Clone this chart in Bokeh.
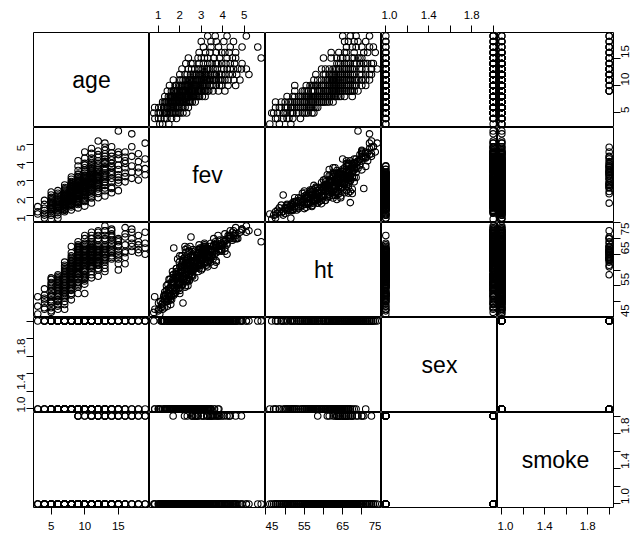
import math
from bokeh.plotting import figure
from bokeh.layouts import gridplot
from bokeh.models import LinearAxis, FixedTicker, Range1d, PrintfTickFormatter
from bokeh.core.properties import value
from bokeh.embed import file_html
from bokeh.resources import INLINE

names = ["age", "fev", "ht", "sex", "smoke"]

age = [
    3, 3, 3,
    4, 4, 4, 4, 4, 4, 4,
    5, 5, 5, 5, 5, 5, 5, 5, 5, 5, 5, 5, 5, 5, 5, 5, 5, 5,
    6, 6, 6, 6, 6, 6, 6, 6, 6, 6, 6, 6, 6, 6, 6, 6, 6, 6, 6, 6, 6, 6,
    7, 7, 7, 7, 7, 7, 7, 7, 7, 7, 7, 7, 7, 7, 7, 7, 7, 7, 7, 7, 7, 7, 7, 7, 7, 7, 7, 7, 7, 7,
    8, 8, 8, 8, 8, 8, 8, 8, 8, 8, 8, 8, 8, 8, 8, 8, 8, 8, 8, 8, 8, 8, 8, 8,
    8, 8, 8, 8, 8, 8, 8, 8, 8, 8, 8, 8, 8, 8, 8, 8, 8, 8,
    9, 9, 9, 9, 9, 9, 9, 9, 9, 9, 9, 9, 9, 9, 9, 9, 9, 9, 9, 9, 9, 9, 9, 9, 9, 9, 9,
    9, 9, 9, 9, 9, 9, 9, 9, 9, 9, 9, 9, 9, 9, 9, 9, 9, 9,
    10, 10, 10, 10, 10, 10, 10, 10, 10, 10, 10, 10, 10, 10, 10, 10, 10, 10, 10, 10, 10, 10, 10, 10,
    10, 10, 10, 10, 10, 10, 10, 10, 10, 10, 10, 10, 10, 10, 10, 10,
    11, 11, 11, 11, 11, 11, 11, 11, 11, 11, 11, 11, 11, 11, 11, 11, 11, 11, 11, 11, 11, 11, 11, 11,
    11, 11, 11, 11, 11, 11, 11, 11, 11, 11, 11, 11, 11, 11, 11, 11,
    12, 12, 12, 12, 12, 12, 12, 12, 12, 12, 12, 12, 12, 12, 12, 12, 12, 12,
    12, 12, 12, 12, 12, 12, 12, 12, 12, 12,
    13, 13, 13, 13, 13, 13, 13, 13, 13, 13, 13, 13, 13, 13,
    13, 13, 13, 13, 13, 13, 13, 13,
    14, 14, 14, 14, 14, 14, 14, 14, 14, 14, 14,
    14, 14, 14, 14,
    15, 15, 15, 15, 15, 15, 15, 15, 15, 15, 15,
    16, 16, 16, 16, 16, 16, 16, 16,
    17, 17, 17, 17, 17, 17,
    18, 18, 18, 18, 18,
    19, 19, 19, 19,
]

fev = [
    1.07, 1.49, 1.20,
    0.84, 1.12, 1.40, 1.85, 1.27, 1.01, 1.62,
    0.79, 1.00, 1.21, 1.34, 1.45, 1.58, 1.72, 1.95, 2.32, 2.15, 1.10, 1.29, 1.52, 1.66, 1.80, 1.38, 2.02, 1.88,
    1.02, 1.25, 1.38, 1.50, 1.61, 1.70, 1.82, 1.94, 2.08, 2.25, 2.40, 0.83, 1.15, 1.30, 1.45, 1.56, 1.77, 1.88,
    2.00, 2.15, 1.64, 1.42,
    1.20, 1.33, 1.45, 1.55, 1.62, 1.71, 1.80, 1.88, 1.95, 2.03, 2.12, 2.20, 2.31, 2.44, 2.58, 2.72, 1.38, 1.50,
    1.66, 1.76, 1.92, 2.07, 2.16, 2.27, 2.38, 1.58, 1.84, 2.00, 2.50, 1.28,
    1.30, 1.47, 1.58, 1.66, 1.74, 1.81, 1.89, 1.95, 2.02, 2.09, 2.15, 2.21, 2.28, 2.35, 2.41, 2.48, 2.55, 2.63,
    2.71, 2.80, 2.92, 3.05, 3.18, 2.00,
    1.55, 1.70, 1.85, 2.25, 2.38, 2.60, 2.87, 1.98, 2.12, 2.44, 2.67, 1.78, 2.30, 2.52, 1.92, 2.75, 1.62, 2.05,
    1.42, 1.61, 1.75, 1.86, 1.97, 2.05, 2.13, 2.20, 2.27, 2.34, 2.40, 2.47, 2.53, 2.60, 2.67, 2.74, 2.82, 2.90,
    2.98, 3.08, 3.20, 3.35, 3.55, 3.80, 4.10, 1.69, 1.72,
    1.90, 2.15, 2.30, 2.45, 2.58, 2.70, 2.86, 3.00, 3.15, 2.22, 2.55, 1.80, 2.10, 2.38, 2.62, 3.30, 2.94, 2.48,
    1.52, 1.78, 1.94, 2.08, 2.20, 2.31, 2.40, 2.49, 2.57, 2.65, 2.73, 2.81, 2.90, 2.98, 3.07, 3.16, 3.27, 3.40,
    3.58, 3.85, 4.25, 4.60, 2.35, 2.76,
    1.85, 2.14, 2.44, 2.62, 2.86, 3.05, 3.22, 3.50, 3.70, 2.26, 2.53, 3.12, 2.95, 2.00, 3.95, 2.70,
    1.70, 2.05, 2.26, 2.42, 2.55, 2.66, 2.76, 2.85, 2.94, 3.03, 3.12, 3.21, 3.30, 3.40, 3.52, 3.66, 3.82, 4.00,
    4.25, 4.52, 4.80, 2.60, 3.10, 3.45,
    2.15, 2.35, 2.50, 2.72, 2.90, 3.15, 3.35, 3.58, 3.90, 4.10, 2.80, 3.00, 3.25, 3.70, 2.45, 1.98,
    2.00, 2.35, 2.62, 2.80, 2.95, 3.08, 3.20, 3.34, 3.50, 3.70, 3.95, 4.30, 4.65, 5.22, 2.70, 3.25, 3.62, 2.24,
    2.50, 2.88, 3.15, 3.42, 3.85, 4.10, 2.75, 3.60, 4.45, 3.00,
    2.10, 2.55, 2.90, 3.15, 3.40, 3.65, 3.95, 4.35, 4.70, 5.10, 2.85, 3.30, 3.75, 4.87,
    2.40, 3.05, 3.55, 4.05, 4.50, 2.70, 3.25, 4.20,
    2.28, 2.90, 3.30, 3.70, 4.15, 4.55, 4.90, 2.60, 3.50, 2.52, 3.78,
    3.10, 3.95, 4.35, 3.40,
    5.79, 2.40, 3.00, 3.60, 4.20, 4.60, 2.85, 3.30, 3.85, 4.45, 3.15,
    2.90, 3.40, 3.95, 4.30, 4.60, 3.20, 3.70, 4.10,
    5.63, 3.10, 3.80, 4.90, 3.45, 4.35,
    3.00, 3.45, 4.05, 4.50, 3.70,
    5.10, 3.30, 4.20, 3.65,
]

ht = [
    46.0, 51.5, 48.5,
    47.5, 48.0, 51.0, 54.0, 52.0, 49.5, 50.5,
    46.5, 47.0, 49.5, 52.0, 50.5, 54.5, 52.0, 56.0, 57.0, 49.5, 50.0, 48.0, 51.5, 55.0, 53.0, 53.5, 55.5, 57.5,
    47.5, 51.5, 50.0, 54.0, 52.0, 56.0, 53.5, 57.5, 55.0, 56.5, 58.5, 51.5, 49.0, 53.0, 55.5, 50.5, 54.5, 58.0,
    52.5, 57.0, 56.5, 48.5,
    47.5, 52.0, 50.0, 54.5, 51.5, 56.0, 53.0, 57.5, 54.0, 59.0, 55.5, 60.0, 57.0, 61.0, 58.5, 62.5, 55.0, 57.0,
    59.5, 52.5, 56.5, 61.5, 58.0, 55.0, 59.5, 49.0, 60.5, 53.5, 60.0, 51.0,
    50.5, 53.5, 52.0, 56.0, 54.0, 57.5, 55.0, 59.0, 56.0, 60.0, 57.0, 61.5, 58.0, 56.5, 62.0, 59.0, 63.0, 60.0,
    61.0, 64.5, 62.0, 63.5, 67.5, 61.0,
    57.0, 58.5, 60.5, 54.5, 60.5, 58.0, 65.5, 55.5, 62.5, 57.5, 64.0, 52.5, 63.0, 61.5, 58.5, 60.5, 55.5, 59.5,
    52.5, 56.0, 54.5, 58.5, 56.0, 60.0, 57.5, 61.5, 59.0, 62.5, 58.5, 60.0, 63.0, 59.5, 64.0, 61.0, 62.0, 65.5,
    63.0, 64.5, 66.5, 64.0, 67.5, 66.0, 69.0, 58.5, 67.0,
    63.5, 55.5, 63.5, 57.0, 65.0, 60.5, 66.5, 61.5, 68.0, 64.0, 61.0, 59.0, 64.5, 55.0, 62.5, 61.0, 67.0, 67.5,
    52.5, 57.5, 55.5, 60.0, 57.0, 61.5, 58.5, 62.5, 60.0, 64.0, 61.0, 65.0, 62.0, 63.5, 66.0, 62.5, 67.0, 64.5,
    68.0, 66.5, 70.0, 71.0, 63.5, 61.5,
    59.5, 63.0, 56.5, 66.5, 59.5, 60.5, 65.5, 66.0, 63.0, 66.5, 58.0, 67.5, 64.0, 64.5, 68.5, 57.5,
    57.5, 61.0, 58.5, 62.5, 59.5, 64.0, 61.0, 65.5, 62.0, 63.0, 66.5, 62.5, 64.5, 67.5, 65.0, 69.0, 66.5, 68.0,
    71.0, 70.0, 72.0, 64.0, 63.5, 66.0,
    63.5, 67.0, 61.5, 66.0, 60.5, 68.5, 63.0, 70.0, 66.5, 67.0, 63.5, 67.0, 61.5, 62.5, 66.0, 62.5,
    58.0, 62.0, 60.5, 64.0, 62.5, 65.5, 63.5, 66.5, 64.5, 68.0, 66.5, 71.0, 70.0, 72.5, 63.0, 66.0, 65.0, 67.5,
    64.5, 61.5, 67.0, 62.5, 69.5, 66.0, 65.5, 61.5, 72.0, 60.0,
    59.5, 63.0, 61.5, 65.5, 64.0, 68.0, 66.5, 71.0, 70.0, 74.0, 64.0, 62.5, 67.5, 72.5,
    66.0, 66.5, 63.5, 69.5, 72.5, 60.5, 67.0, 65.0,
    65.5, 68.0, 64.0, 68.5, 69.5, 71.5, 73.0, 64.5, 66.5, 70.5, 71.0,
    67.0, 66.0, 72.5, 63.5,
    69.0, 60.0, 63.5, 66.0, 68.0, 70.0, 65.0, 62.0, 67.5, 69.5, 64.5,
    62.0, 64.0, 68.0, 70.5, 73.5, 66.0, 65.5, 71.5,
    72.0, 66.0, 67.5, 73.0, 68.5, 70.0,
    65.5, 66.5, 69.0, 71.0, 68.0,
    72.0, 65.0, 68.5, 67.0,
]

sex = [
    1, 2, 1,
    1, 2, 1, 2, 2, 1, 2,
    2, 1, 2, 1, 2, 1, 2, 2, 1, 2, 1, 2, 1, 2, 1, 2, 1, 2,
    1, 2, 1, 2, 1, 2, 1, 2, 2, 1, 2, 1, 2, 1, 2, 1, 2, 1,
    2, 1, 2, 1,
    2, 1, 2, 1, 2, 1, 2, 1, 2, 1, 2, 1, 2, 1, 2, 2, 1, 2,
    1, 2, 1, 2, 1, 2, 1, 2, 1, 2, 1, 1,
    1, 2, 1, 2, 1, 2, 1, 2, 1, 2, 1, 2, 1, 2, 1, 2, 1, 2,
    1, 2, 2, 1, 2, 1,
    1, 2, 1, 2, 1, 2, 1, 2, 1, 2, 2, 1, 2, 1, 2, 2, 1, 1,
    1, 2, 1, 2, 1, 2, 1, 2, 1, 2, 1, 2, 1, 2, 1, 2, 1, 2,
    2, 1, 2, 2, 2, 2, 2, 1, 2,
    1, 2, 1, 2, 1, 2, 1, 2, 2, 1, 2, 1, 2, 1, 2, 1, 2, 1,
    1, 2, 1, 2, 1, 2, 1, 2, 1, 2, 1, 2, 1, 2, 1, 2, 2, 1,
    2, 2, 2, 2, 1, 2,
    1, 2, 1, 2, 1, 2, 1, 2, 2, 1, 2, 2, 1, 1, 2, 2,
    1, 2, 1, 2, 1, 2, 1, 2, 1, 2, 1, 2, 1, 2, 2, 2, 1, 2,
    2, 2, 2, 1, 2, 1,
    1, 2, 1, 2, 1, 2, 1, 2, 2, 2, 1, 2, 1, 2, 2, 1,
    1, 1, 2, 1, 2, 1, 2, 1, 2, 2, 2, 2, 2, 2, 1, 2, 1, 2,
    1, 2, 1, 2, 2, 2, 1, 2, 2, 1,
    1, 1, 1, 2, 1, 2, 2, 2, 2, 2, 1, 1, 2, 2,
    1, 1, 2, 2, 2, 1, 2, 2,
    1, 1, 1, 2, 2, 2, 2, 1, 2, 2, 1,
    1, 2, 2, 2,
    2, 1, 1, 1, 2, 2, 1, 1, 2, 2, 2,
    1, 1, 2, 2, 2, 1, 2, 2,
    2, 1, 2, 2, 1, 2,
    1, 1, 2, 2, 2,
    2, 1, 2, 2,
]

smoke = [
    1, 1, 1,
    1, 1, 1, 1, 1, 1, 1,
    1, 1, 1, 1, 1, 1, 1, 1, 1, 1, 1, 1, 1, 1, 1, 1, 1, 1,
    1, 1, 1, 1, 1, 1, 1, 1, 1, 1, 1, 1, 1, 1, 1, 1, 1, 1,
    1, 1, 1, 1,
    1, 1, 1, 1, 1, 1, 1, 1, 1, 1, 1, 1, 1, 1, 1, 1, 1, 1,
    1, 1, 1, 1, 1, 1, 1, 1, 1, 1, 1, 1,
    1, 1, 1, 1, 1, 1, 1, 1, 1, 1, 1, 1, 1, 1, 1, 1, 1, 1,
    1, 1, 1, 1, 1, 1,
    1, 1, 1, 1, 1, 1, 1, 1, 1, 1, 1, 1, 1, 1, 1, 1, 1, 1,
    1, 1, 1, 1, 1, 1, 1, 1, 1, 1, 1, 1, 1, 1, 1, 1, 1, 1,
    1, 1, 1, 1, 1, 1, 1, 2, 1,
    1, 1, 1, 1, 1, 1, 1, 1, 1, 2, 2, 1, 1, 1, 1, 1, 1, 1,
    1, 1, 1, 1, 1, 1, 1, 1, 1, 1, 1, 1, 1, 1, 1, 1, 1, 1,
    1, 1, 1, 1, 2, 2,
    1, 1, 1, 1, 1, 1, 1, 1, 1, 1, 1, 1, 1, 1, 1, 1,
    1, 1, 1, 1, 1, 1, 1, 1, 1, 1, 1, 1, 1, 1, 1, 1, 1, 1,
    1, 1, 1, 2, 2, 2,
    1, 1, 1, 1, 1, 1, 1, 1, 1, 1, 1, 2, 1, 1, 1, 1,
    1, 1, 1, 1, 1, 1, 1, 1, 1, 1, 1, 1, 1, 1, 2, 2, 2, 1,
    1, 1, 1, 1, 1, 1, 2, 1, 1, 1,
    1, 1, 1, 1, 1, 1, 1, 1, 1, 1, 2, 2, 2, 2,
    1, 1, 2, 1, 1, 1, 1, 1,
    1, 1, 1, 1, 1, 1, 1, 2, 2, 1, 1,
    1, 2, 1, 1,
    1, 1, 1, 1, 1, 2, 2, 1, 2, 1, 1,
    1, 2, 1, 2, 1, 1, 2, 1,
    1, 2, 2, 1, 1, 2,
    1, 2, 2, 1, 1,
    1, 2, 2, 1,
]

major_ticks = {
    "age": [5, 10, 15],
    "fev": [1, 2, 3, 4, 5],
    "ht": [45, 55, 65, 75],
    "sex": [1.0, 1.4, 1.8],
    "smoke": [1.0, 1.4, 1.8],
}
minor_ticks = {
    "age": [],
    "fev": [],
    "ht": [50, 60, 70],
    "sex": [1.2, 1.6, 2.0],
    "smoke": [1.2, 1.6, 2.0],
}
label_fmt = {"age": "%d", "fev": "%d", "ht": "%d", "sex": "%.1f", "smoke": "%.1f"}

data = [age, fev, ht, sex, smoke]
n = len(age)
assert all(len(c) == n for c in data), [len(c) for c in data]

FONT = "Liberation Sans"
FW, FH = 116, 95

ranges = []
for col in data:
    lo, hi = min(col), max(col)
    pad = 0.04 * (hi - lo)
    ranges.append(Range1d(lo - pad, hi + pad))


def make_axis(name, side):
    t = major_ticks[name] + minor_ticks[name]
    ax = LinearAxis(
        ticker=FixedTicker(ticks=major_ticks[name], minor_ticks=minor_ticks[name]),
        formatter=PrintfTickFormatter(format=label_fmt[name]),
        bounds=(min(t), max(t)),
    )
    ax.axis_line_color = "black"
    ax.major_tick_line_color = "black"
    ax.minor_tick_line_color = "black"
    ax.major_tick_out = 7
    ax.major_tick_in = 0
    ax.minor_tick_out = 7
    ax.minor_tick_in = 0
    ax.major_label_text_font = FONT
    ax.major_label_text_font_size = "11.5px"
    ax.major_label_text_color = "black"
    if side in ("left", "right"):
        ax.major_label_orientation = math.pi / 2
        ax.major_label_standoff = 5
    else:
        ax.major_label_standoff = 7
    return ax


rows = []
for i in range(5):
    row = []
    for j in range(5):
        p = figure(
            frame_width=FW, frame_height=FH,
            x_range=ranges[j], y_range=ranges[i],
            x_axis_location=None, y_axis_location=None,
            toolbar_location=None, tools="",
            output_backend="svg",
            min_border_left=33 if j == 0 else 0,
            min_border_right=27 if j == 4 else 0,
            min_border_top=32 if i == 0 else 0,
            min_border_bottom=28 if i == 4 else 0,
        )
        p.outline_line_color = "black"
        p.outline_line_width = 1
        p.outline_line_alpha = 1.0
        p.background_fill_color = "white"
        p.border_fill_color = "white"
        p.grid.visible = False

        if i == j:
            cx = (ranges[j].start + ranges[j].end) / 2
            cy = (ranges[i].start + ranges[i].end) / 2
            p.text(x=[cx], y=[cy], text=[names[i]], text_font=value(FONT),
                   text_font_size="23px", text_align="center",
                   text_baseline="middle", text_color="black")
        else:
            p.scatter(x=data[j], y=data[i], marker="circle", size=6.5,
                      fill_color=None, line_color="black", line_width=1.1)

        if i == 0 and j % 2 == 1:
            p.add_layout(make_axis(names[j], "above"), "above")
        if i == 4 and j % 2 == 0:
            p.add_layout(make_axis(names[j], "below"), "below")
        if j == 0 and i % 2 == 1:
            p.add_layout(make_axis(names[i], "left"), "left")
        if j == 4 and i % 2 == 0:
            p.add_layout(make_axis(names[i], "right"), "right")
        row.append(p)
    rows.append(row)

grid = gridplot(rows, toolbar_location=None)

open("out.html", "w").write(file_html(grid, INLINE))
